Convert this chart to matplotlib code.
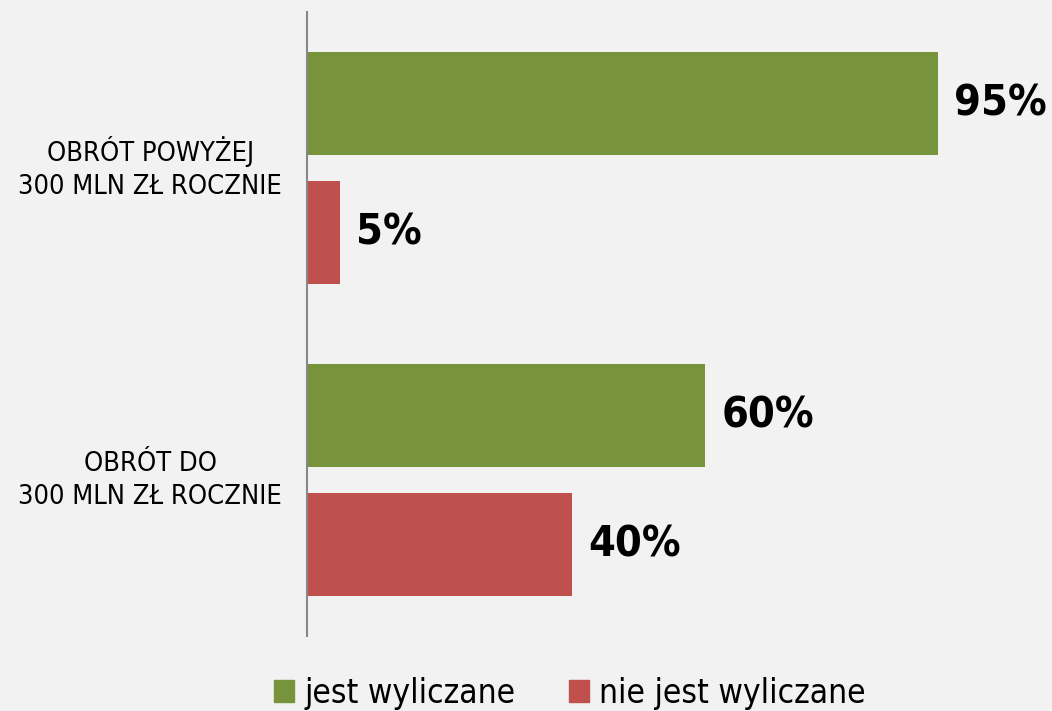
import matplotlib.pyplot as plt
import numpy as np
from matplotlib.patches import Patch

categories = ["OBRÓT DO\n300 MLN ZŁ ROCZNIE", "OBRÓT POWYŻEJ\n300 MLN ZŁ ROCZNIE"]
series_names = ["jest wyliczane", "nie jest wyliczane"]
jest = [60, 95]
nie_jest = [40, 5]
colors = ["#77933c", "#c0504d"]

plt.rcParams['font.family'] = ['DejaVu Sans']
plt.rcParams['font.stretch'] = 'condensed'

fig = plt.figure(figsize=(10.52, 7.11), dpi=100, facecolor="#f2f2f2")
ax = fig.add_axes([0.2918, 0.1055, 0.631, 0.8775])
ax.set_facecolor("#f2f2f2")

y = np.arange(len(categories))
off = 0.208
h = 0.33
b1 = ax.barh(y + off, jest, height=h, color=colors[0])
b2 = ax.barh(y - off, nie_jest, height=h, color=colors[1])

for bars, vals in ((b1, jest), (b2, nie_jest)):
    for bar, v in zip(bars, vals):
        ax.text(v + 2.4, bar.get_y() + bar.get_height() / 2, f"{v}%",
                va="center", ha="left", fontsize=31, fontweight="bold")

ax.set_xlim(0, 100)
ax.set_ylim(-0.5, 1.5)
ax.set_xticks([])
ax.set_yticks(y)
ax.set_yticklabels(categories, fontsize=19.5, linespacing=1.35)
for lab in ax.get_yticklabels():
    lab.set_multialignment("center")
    lab.set_verticalalignment("center")
ax.tick_params(axis="y", length=0, pad=18)
for s in ["top", "right", "bottom"]:
    ax.spines[s].set_visible(False)
ax.spines["left"].set_color("#888888")
ax.spines["left"].set_linewidth(1.5)

handles = [Patch(color=c) for c in colors]
fig.legend(handles, series_names, loc="center", bbox_to_anchor=(570 / 1052, 0.025),
           ncol=2, frameon=False, fontsize=24, handlelength=0.6, handleheight=0.6,
           handletextpad=0.3, columnspacing=1.6)

fig.savefig("out.png", dpi=100, facecolor=fig.get_facecolor())
